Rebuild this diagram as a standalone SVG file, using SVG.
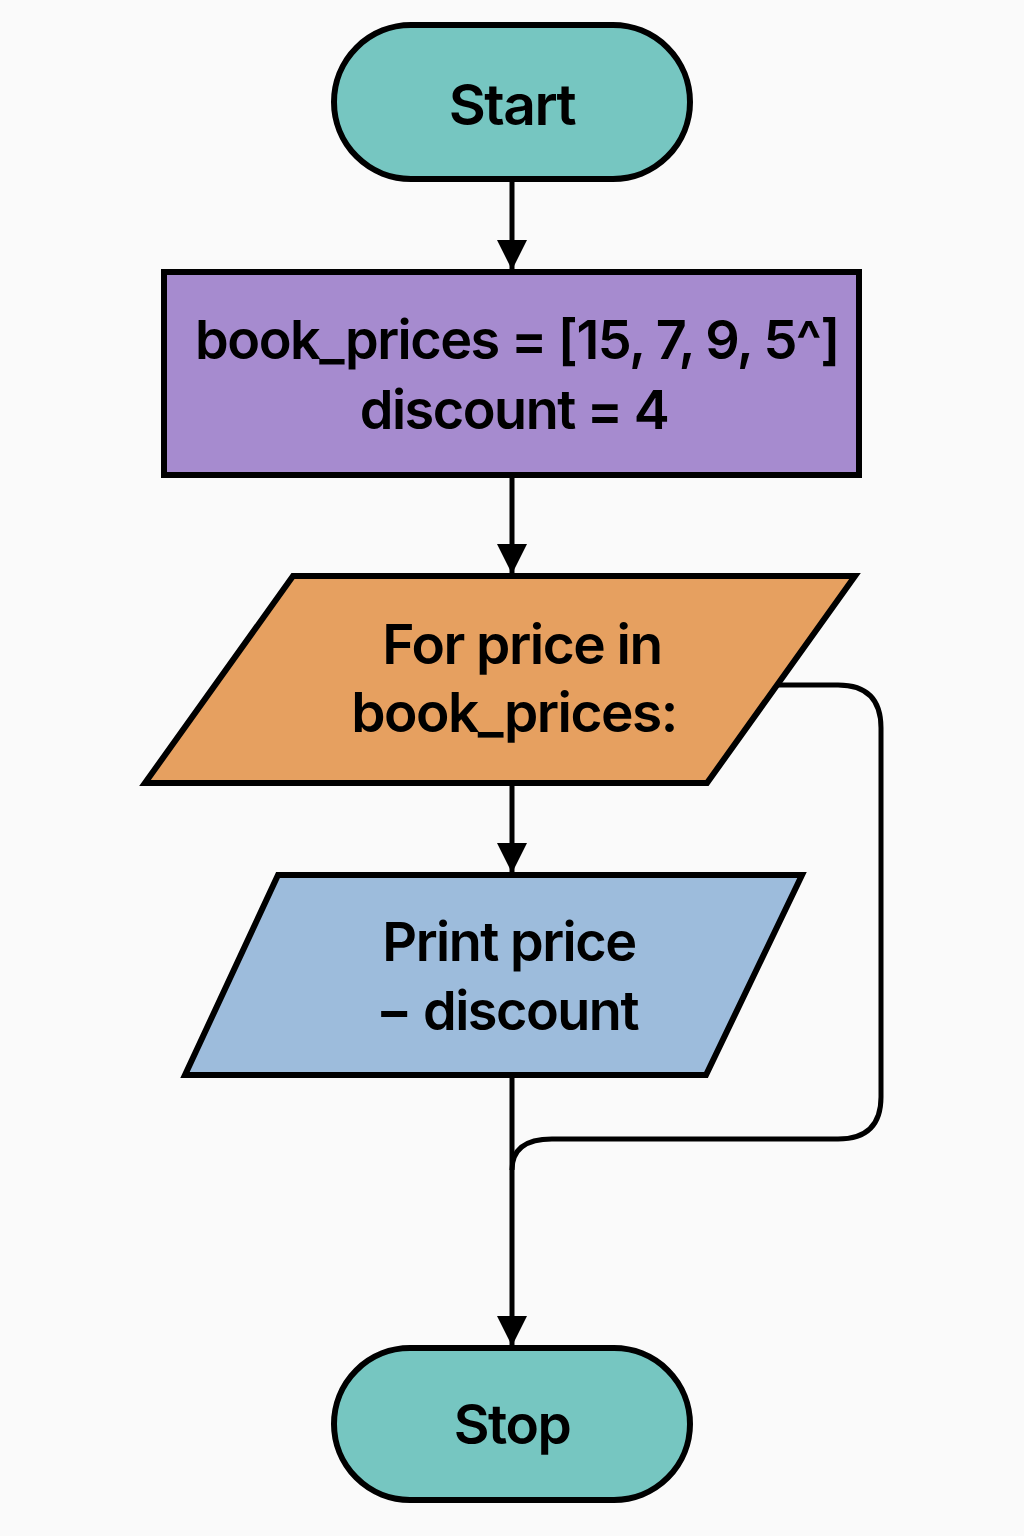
<svg xmlns="http://www.w3.org/2000/svg" width="1024" height="1536" viewBox="0 0 1024 1536">
<defs>
<style>
.sh{stroke:#000;stroke-width:6;stroke-linejoin:miter}
.t{font-family:Inter,"Liberation Sans",sans-serif;font-weight:600;fill:#000;text-anchor:middle;letter-spacing:-1.5px}
.c{fill:none;stroke:#000;stroke-width:5}
</style>
<marker id="ah" viewBox="0 0 10 10" refX="10" refY="5" markerWidth="6" markerHeight="6" markerUnits="strokeWidth" orient="auto">
<path d="M0,0 L10,5 L0,10 Z" fill="#000"/>
</marker>
</defs>
<rect width="1024" height="1536" fill="#fafafa"/>
<g id="connectors">
<line class="c" x1="512" y1="179" x2="512" y2="270" marker-end="url(#ah)"/>
<line class="c" x1="512" y1="475" x2="512" y2="574" marker-end="url(#ah)"/>
<line class="c" x1="512" y1="783" x2="512" y2="873" marker-end="url(#ah)"/>
<line class="c" x1="512" y1="1075" x2="512" y2="1346" marker-end="url(#ah)"/>
<path class="c" d="M778,685 L838,685 Q881,685 881,728 L881,1097 Q881,1139 838,1139 L552,1139 Q512,1139 512,1170"/>
</g>
<g id="start">
<rect class="sh" x="334" y="25" width="356" height="154" rx="77" fill="#76c6c1"/>
<text class="t" x="512" y="125" font-size="57">Start</text>
</g>
<g id="init">
<rect class="sh" x="164" y="272" width="695" height="203" fill="#a68bcf"/>
<text class="t" x="517" y="359" font-size="54">book_prices = [15, 7, 9, 5^]</text>
<text class="t" x="514" y="429" font-size="54">discount = 4</text>
</g>
<g id="loop">
<polygon class="sh" points="293,576 855,576 707,783 145,783" fill="#e6a060"/>
<text class="t" x="522" y="664" font-size="55">For price in</text>
<text class="t" x="514" y="732" font-size="55">book_prices:</text>
</g>
<g id="print">
<polygon class="sh" points="278,875 802,875 706,1075 185,1075" fill="#9dbcdc"/>
<text class="t" x="509" y="961" font-size="54">Print price</text>
<text class="t" x="507" y="1030" font-size="54">− discount</text>
</g>
<g id="stop">
<rect class="sh" x="334" y="1348" width="356" height="152" rx="76" fill="#76c6c1"/>
<text class="t" x="512" y="1444" font-size="55">Stop</text>
</g>
</svg>
